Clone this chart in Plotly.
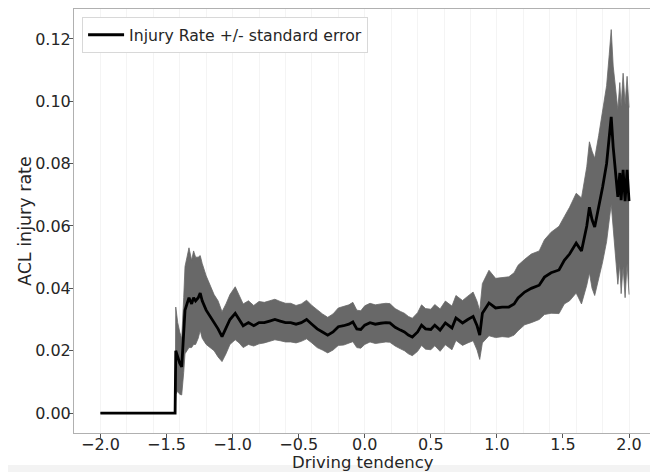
import plotly.graph_objects as go

# Driving tendency (x) and ACL injury rate with standard error
x = [-2.0, -1.435, -1.43, -1.415, -1.40, -1.385, -1.37, -1.36, -1.345, -1.33, -1.31, -1.295,
     -1.28, -1.26, -1.245, -1.23, -1.20, -1.17, -1.14, -1.11, -1.08, -1.05, -1.02, -0.98,
     -0.95, -0.92, -0.88, -0.84, -0.80, -0.76, -0.72, -0.68, -0.64, -0.60, -0.56, -0.52,
     -0.48, -0.44, -0.40, -0.36, -0.32, -0.28, -0.24, -0.20, -0.16, -0.12, -0.09, -0.06,
     -0.03, 0.0, 0.04, 0.08, 0.12, 0.16, 0.19, 0.23, 0.27, 0.30, 0.33, 0.36, 0.40, 0.43,
     0.46, 0.50, 0.53, 0.57, 0.61, 0.66, 0.69, 0.74, 0.78, 0.82, 0.85, 0.87, 0.89, 0.94,
     0.99, 1.04, 1.09, 1.13, 1.16, 1.21, 1.26, 1.32, 1.36, 1.41, 1.47, 1.51, 1.55, 1.60,
     1.64, 1.68, 1.70, 1.72, 1.74, 1.77, 1.80, 1.83, 1.85, 1.865, 1.88, 1.90, 1.915, 1.93,
     1.94, 1.955, 1.97, 1.985, 2.0]
rate = [0.0, 0.0, 0.020, 0.018, 0.016, 0.0148, 0.025, 0.033, 0.035, 0.037, 0.035, 0.037,
        0.036, 0.037, 0.0385, 0.036, 0.033, 0.031, 0.029, 0.027, 0.0245, 0.027, 0.030, 0.032,
        0.030, 0.028, 0.029, 0.028, 0.029, 0.029, 0.0295, 0.030, 0.0295, 0.029, 0.029, 0.0285,
        0.029, 0.030, 0.0285, 0.027, 0.026, 0.025, 0.026, 0.0277, 0.028, 0.0285, 0.0292, 0.027,
        0.0268, 0.0282, 0.029, 0.0285, 0.0288, 0.029, 0.0289, 0.0275, 0.0266, 0.026, 0.025, 0.0244,
        0.026, 0.0282, 0.027, 0.0268, 0.0282, 0.0266, 0.0289, 0.0273, 0.0305, 0.0289, 0.030, 0.031,
        0.028, 0.025, 0.032, 0.0353, 0.0337, 0.034, 0.034, 0.035, 0.0369, 0.0388, 0.040, 0.041,
        0.0436, 0.045, 0.0459, 0.049, 0.051, 0.0545, 0.052, 0.060, 0.066, 0.062, 0.0597, 0.066,
        0.0725, 0.080, 0.089, 0.095, 0.0853, 0.0757, 0.0693, 0.077, 0.0683, 0.078, 0.068, 0.078,
        0.068]
stderr = [0.0, 0.0, 0.014, 0.011, 0.010, 0.009, 0.012, 0.014, 0.015, 0.016, 0.014, 0.015,
          0.014, 0.013, 0.012, 0.012, 0.011, 0.010, 0.009, 0.009, 0.008, 0.008, 0.008, 0.0085,
          0.0075, 0.007, 0.007, 0.0065, 0.0068, 0.0065, 0.0065, 0.0065, 0.0063, 0.0062, 0.0062, 0.006,
          0.006, 0.0062, 0.006, 0.006, 0.0058, 0.0057, 0.0058, 0.006, 0.0062, 0.0062, 0.0063, 0.006,
          0.006, 0.0062, 0.0062, 0.0062, 0.0062, 0.0062, 0.0062, 0.006, 0.006, 0.006, 0.006, 0.006,
          0.0062, 0.0065, 0.0065, 0.0065, 0.0066, 0.0068, 0.007, 0.007, 0.0072, 0.0072, 0.0075, 0.0078,
          0.0078, 0.0078, 0.0095, 0.0105, 0.0095, 0.0095, 0.0097, 0.010, 0.0105, 0.0105, 0.011, 0.011,
          0.012, 0.013, 0.014, 0.014, 0.015, 0.016, 0.017, 0.019, 0.021, 0.022, 0.022, 0.023,
          0.024, 0.025, 0.026, 0.028, 0.026, 0.027, 0.028, 0.029, 0.030, 0.031, 0.031, 0.030,
          0.030]

x_ticks = [-2.0, -1.5, -1.0, -0.5, 0.0, 0.5, 1.0, 1.5, 2.0]
y_ticks = [0.00, 0.02, 0.04, 0.06, 0.08, 0.10, 0.12]

upper = [r + s for r, s in zip(rate, stderr)]
lower = [r - s for r, s in zip(rate, stderr)]

FONT = "DejaVu Sans"
BAND = "#686868"
TXT = "#262626"
fig = go.Figure()
fig.add_trace(go.Scatter(x=x, y=lower, mode="lines", line=dict(width=0.8, color=BAND),
                         showlegend=False, hoverinfo="skip"))
fig.add_trace(go.Scatter(x=x, y=upper, mode="lines", line=dict(width=0.8, color=BAND),
                         fill="tonexty", fillcolor=BAND, showlegend=False, hoverinfo="skip"))
fig.add_trace(go.Scatter(x=x, y=rate, mode="lines", line=dict(width=2.8, color="black"),
                         name="Injury Rate +/- standard error"))

# page body has an 8px margin, so the figure is drawn 8px right/down
fig.update_layout(
    width=650, height=464,
    margin=dict(l=66, r=7, t=1, b=39),
    paper_bgcolor="white", plot_bgcolor="white",
    font=dict(family=FONT, color=TXT, size=15),
    showlegend=True,
    legend=dict(x=0.014, y=0.981, xanchor="left", yanchor="top",
                bgcolor="white", bordercolor="#d8d8d8", borderwidth=1,
                itemwidth=36,
                font=dict(family=FONT, size=15.7, color=TXT)),
    shapes=[dict(type="rect", xref="paper", yref="paper", x0=-0.2, x1=1.2,
                 y0=-0.0755, y1=-0.2, fillcolor="#f3f3f3", line=dict(width=0), layer="below")],
    annotations=[
        dict(text="Driving tendency", xref="paper", yref="paper", x=0.5, y=-0.0695,
             xanchor="center", yanchor="middle", showarrow=False,
             font=dict(family=FONT, size=16.5, color=TXT)),
        dict(text="ACL injury rate", xref="paper", yref="paper", x=-0.0849, y=0.5,
             xanchor="center", yanchor="middle", textangle=-90, showarrow=False,
             font=dict(family=FONT, size=17.5, color=TXT)),
    ],
)
fig.update_xaxes(range=[-2.2, 2.166], tickvals=x_ticks, tickformat=".1f", automargin=False,
                 showline=True, mirror=True, linecolor="#b0b0b0", linewidth=1,
                 ticks="outside", ticklen=4, tickcolor="#555555", ticklabelstandoff=-7,
                 showgrid=False, zeroline=False,
                 minor=dict(dtick=0.2, tick0=0, showgrid=True, gridcolor="#f4f4f4", ticks=""),
                 tickfont=dict(size=16))
fig.update_yaxes(range=[-0.0064, 0.1296], tickvals=y_ticks, tickformat=".2f", automargin=False,
                 showline=True, mirror=True, linecolor="#b0b0b0", linewidth=1,
                 ticks="outside", ticklen=4, tickcolor="#555555", ticklabelstandoff=-5,
                 showgrid=False, zeroline=False,
                 tickfont=dict(size=16))

fig.write_html("out.html")
